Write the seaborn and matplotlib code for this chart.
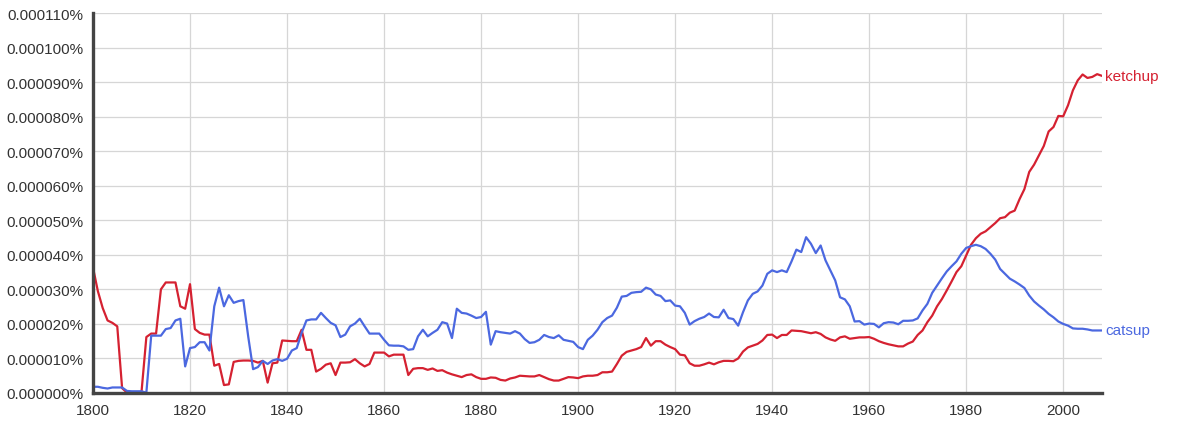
import matplotlib
matplotlib.use("Agg")
import matplotlib.pyplot as plt
import seaborn as sns
import numpy as np
import pandas as pd

# values are in units of 0.000001 % (so 10 -> 0.000010%)
years = list(range(1800, 2009))

ketchup = [
    36.3, 29.5, 24.6, 21.0, 20.3, 19.3, 1.4, 0.1, 0.0, 0.2,  # 1800
    0.3, 16.2, 17.2, 17.2, 30.0, 32.0, 32.0, 32.0, 25.1, 24.4,  # 1810
    31.5, 18.5, 17.4, 16.9, 16.9, 7.9, 8.4, 2.3, 2.5, 9.0,  # 1820
    9.3, 9.4, 9.4, 9.3, 8.8, 9.3, 3.0, 8.6, 8.8, 15.2,  # 1830
    15.1, 15.0, 15.0, 18.3, 12.5, 12.5, 6.2, 7.0, 8.2, 8.6,  # 1840
    5.2, 8.8, 8.8, 8.9, 9.8, 8.6, 7.7, 8.4, 11.7, 11.7,  # 1850
    11.7, 10.6, 11.1, 11.1, 11.1, 5.2, 7.0, 7.2, 7.2, 6.7,  # 1860
    7.1, 6.4, 6.6, 5.9, 5.4, 5.0, 4.6, 5.2, 5.4, 4.6,  # 1870
    4.1, 4.1, 4.5, 4.4, 3.8, 3.6, 4.2, 4.5, 5.0, 4.9,  # 1880
    4.8, 4.8, 5.2, 4.6, 4.0, 3.6, 3.6, 4.1, 4.6, 4.5,  # 1890
    4.3, 4.8, 5.0, 5.0, 5.2, 6.0, 6.0, 6.2, 8.4, 10.8,  # 1900
    11.9, 12.3, 12.7, 13.3, 15.9, 13.7, 15.0, 15.0, 14.0, 13.3,  # 1910
    12.7, 11.1, 10.9, 8.6, 7.9, 7.9, 8.3, 8.8, 8.3, 8.9,  # 1920
    9.3, 9.3, 9.2, 10.0, 12.0, 13.2, 13.7, 14.2, 15.2, 16.8,  # 1930
    16.9, 15.9, 16.8, 16.8, 18.1, 18.0, 17.9, 17.6, 17.3, 17.6,  # 1940
    17.1, 16.1, 15.5, 15.1, 16.1, 16.4, 15.7, 15.9, 16.1, 16.1,  # 1950
    16.2, 15.7, 15.0, 14.5, 14.1, 13.8, 13.5, 13.5, 14.3, 14.9,  # 1960
    16.8, 18.1, 20.5, 22.4, 25.1, 27.2, 29.7, 32.3, 35.0, 36.7,  # 1970
    39.8, 42.9, 44.8, 46.1, 46.8, 48.0, 49.2, 50.6, 50.9, 52.2,  # 1980
    52.8, 56.1, 59.0, 64.0, 66.1, 68.8, 71.5, 75.7, 77.0, 80.2,  # 1990
    80.1, 83.3, 87.6, 90.5, 92.2, 91.2, 91.5, 92.3, 91.8,  # 2000
]

catsup = [
    1.8, 1.8, 1.5, 1.3, 1.6, 1.6, 1.6, 0.6, 0.5, 0.5,  # 1800
    0.5, 0.1, 16.6, 16.6, 16.6, 18.5, 18.8, 21.0, 21.5, 7.7,  # 1810
    13.0, 13.3, 14.7, 14.7, 12.3, 25.1, 30.5, 25.1, 28.3, 26.1,  # 1820
    26.6, 26.9, 16.3, 6.9, 7.5, 9.3, 8.4, 9.4, 9.8, 9.3,  # 1830
    9.9, 12.3, 13.0, 17.4, 21.0, 21.3, 21.3, 23.2, 21.7, 20.3,  # 1840
    19.6, 16.2, 16.9, 19.3, 20.1, 21.5, 19.3, 17.2, 17.2, 17.2,  # 1850
    15.4, 13.8, 13.7, 13.7, 13.5, 12.5, 12.7, 16.4, 18.3, 16.4,  # 1860
    17.4, 18.3, 20.5, 20.1, 15.9, 24.4, 23.2, 23.0, 22.4, 21.7,  # 1870
    22.0, 23.5, 14.0, 17.9, 17.6, 17.4, 17.2, 17.9, 17.2, 15.6,  # 1880
    14.5, 14.7, 15.4, 16.8, 16.2, 15.9, 16.7, 15.4, 15.1, 14.8,  # 1890
    13.3, 12.7, 15.4, 16.6, 18.3, 20.5, 21.7, 22.4, 24.7, 27.9,  # 1900
    28.1, 29.0, 29.2, 29.3, 30.5, 30.0, 28.5, 28.1, 26.6, 26.8,  # 1910
    25.3, 25.1, 23.2, 19.8, 20.8, 21.5, 22.0, 23.0, 22.0, 21.9,  # 1920
    24.1, 21.7, 21.4, 19.5, 23.4, 26.8, 28.7, 29.4, 31.1, 34.5,  # 1930
    35.5, 35.0, 35.5, 35.0, 38.1, 41.5, 40.8, 45.1, 43.2, 40.5,  # 1940
    42.7, 38.4, 35.5, 32.6, 27.7, 27.1, 25.1, 20.7, 20.8, 19.8,  # 1950
    20.1, 20.0, 19.0, 20.2, 20.5, 20.4, 19.9, 20.9, 20.9, 21.0,  # 1960
    21.6, 23.9, 25.8, 29.0, 31.1, 33.2, 35.2, 36.7, 38.1, 40.3,  # 1970
    42.0, 42.5, 42.9, 42.5, 41.7, 40.3, 38.6, 35.9, 34.5, 33.1,  # 1980
    32.3, 31.4, 30.4, 28.2, 26.5, 25.3, 24.2, 22.9, 21.9, 20.7,  # 1990
    20.0, 19.5, 18.7, 18.6, 18.6, 18.4, 18.1, 18.1, 18.1,  # 2000
]

series_names = ["ketchup", "catsup"]
colors = {"ketchup": "#d52131", "catsup": "#4b68e0"}

df = pd.DataFrame(
    {
        "year": years * 2,
        "value": ketchup + catsup,
        "term": ["ketchup"] * len(years) + ["catsup"] * len(years),
    }
)

sns.set_style("white")
plt.rcParams.update(
    {
        "font.family": ["Liberation Sans", "DejaVu Sans"],
        "font.size": 11,
    }
)

fig = plt.figure(figsize=(11.77, 4.27), dpi=100)
ax = fig.add_axes([93 / 1177, 33 / 427, (1102 - 93) / 1177, (394 - 14) / 427])

sns.lineplot(
    data=df,
    x="year",
    y="value",
    hue="term",
    hue_order=series_names,
    palette=colors,
    linewidth=1.6,
    legend=False,
    ax=ax,
)

ax.set_xlim(1800, 2008)
ax.set_ylim(0, 110)
ax.set_xticks(range(1800, 2001, 20))
yticks = list(range(0, 111, 10))
ax.set_yticks(yticks)
ax.set_yticklabels([f"0.{v:06d}%" for v in yticks])
ax.set_xlabel("")
ax.set_ylabel("")

ax.grid(True, color="#d6d6d6", linewidth=0.9)
ax.set_axisbelow(True)
for side in ["top", "right"]:
    ax.spines[side].set_visible(False)
for side in ["left", "bottom"]:
    ax.spines[side].set_color("#444444")
    ax.spines[side].set_linewidth(2.4)
ax.tick_params(axis="both", length=5, width=2, color="#444444",
               labelcolor="#333333", labelsize=11, pad=2)

# labels at end of lines
ax.text(2008.6, ketchup[-1], "ketchup", color=colors["ketchup"],
        va="center", ha="left", fontsize=11, clip_on=False)
ax.text(2008.6, catsup[-1], "catsup", color=colors["catsup"],
        va="center", ha="left", fontsize=11, clip_on=False)

plt.savefig("out.png", dpi=100)
